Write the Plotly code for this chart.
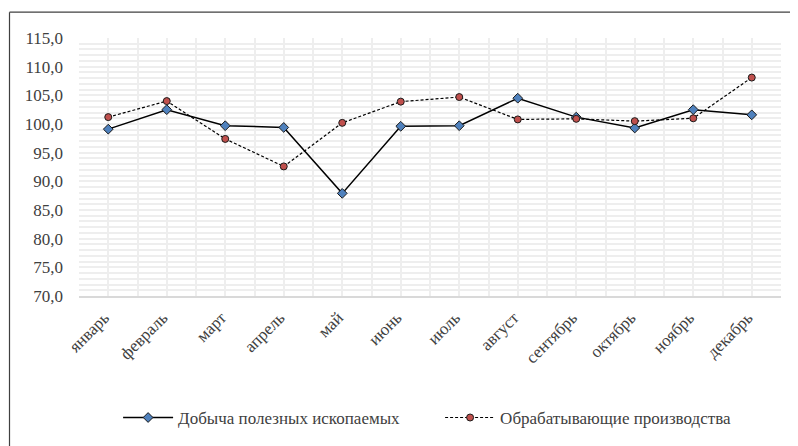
import plotly.graph_objects as go

months = ["январь", "февраль", "март", "апрель", "май", "июнь", "июль",
          "август", "сентябрь", "октябрь", "ноябрь", "декабрь"]
mining = [99.1, 102.5, 99.7, 99.4, 87.9, 99.6, 99.7, 104.5, 101.2, 99.3, 102.5, 101.6]
manufacturing = [101.2, 104.0, 97.4, 92.6, 100.2, 103.9, 104.7, 100.8, 100.9, 100.5, 101.0, 108.1]

x_idx = list(range(len(months)))
font_family = "Times New Roman, Liberation Serif, serif"
text_color = "#404040"

fig = go.Figure()
fig.add_trace(go.Scatter(
    x=x_idx, y=mining, mode="lines+markers",
    name="Добыча полезных ископаемых",
    line=dict(color="#000000", width=1.5),
    marker=dict(symbol="diamond", size=7.5, color="#4f81bd",
                line=dict(color="#1a1a1a", width=1))
))
fig.add_trace(go.Scatter(
    x=x_idx, y=manufacturing, mode="lines+markers",
    name="Обрабатывающие производства",
    line=dict(color="#000000", width=1.2, dash="3px,2px"),
    marker=dict(symbol="circle", size=7, color="#c0504d",
                line=dict(color="#1a1a1a", width=1))
))

# outer frame (only left and top edges fall inside the picture)
fig.add_shape(type="line", xref="paper", yref="paper",
              x0=-0.099, y0=-0.6, x1=-0.099, y1=1.1, line=dict(color="#404040", width=1.2))
fig.add_shape(type="line", xref="paper", yref="paper",
              x0=-0.099, y0=1.1, x1=1.1, y1=1.1, line=dict(color="#404040", width=1.2))

# the page body adds 8px on the left/top, so the figure is 8px smaller
fig.update_layout(
    width=790, height=438,
    margin=dict(l=71, r=17, t=30, b=149),
    plot_bgcolor="white", paper_bgcolor="white",
    separators=", ",
    font=dict(family=font_family, size=17, color=text_color),
    showlegend=True,
    legend=dict(orientation="h", x=0.0557, xanchor="left", y=-0.467, yanchor="middle",
                itemwidth=50, entrywidth=257,
                font=dict(family=font_family, size=17, color=text_color),
                traceorder="normal"),
)
fig.update_xaxes(
    range=[-0.5, 11.5], tickvals=x_idx, ticktext=months, tickangle=-45,
    showgrid=True, gridcolor="#eeeeee", gridwidth=1.5,
    minor=dict(dtick=0.5, tick0=-0.5, showgrid=True, gridcolor="#eeeeee", gridwidth=1.5),
    showline=True, linecolor="#d9d9d9", linewidth=2, zeroline=False,
    ticks="", automargin=False, ticklabelshift=-4, ticklabelstandoff=3,
    tickfont=dict(family=font_family, size=17, color=text_color),
)
fig.update_yaxes(
    range=[70, 115], dtick=5, tick0=70, tickformat=".1f",
    showgrid=True, gridcolor="#eeeeee", gridwidth=1.5,
    minor=dict(dtick=1, showgrid=True, gridcolor="#eeeeee", gridwidth=1.5),
    showline=False, zeroline=False, ticks="", automargin=False,
    ticklabelstandoff=15,
    tickfont=dict(family=font_family, size=17, color=text_color),
)

fig.write_html("out.html")
